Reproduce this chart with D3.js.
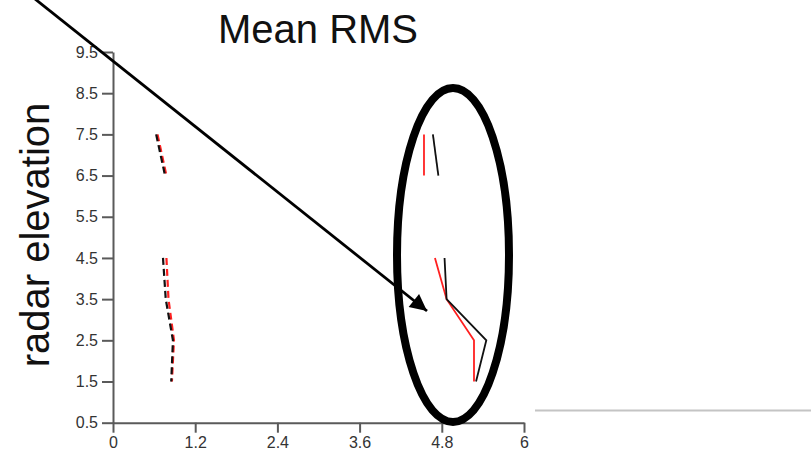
<!DOCTYPE html>
<html>
<head>
<meta charset="utf-8">
<script src="https://d3js.org/d3.v7.min.js"></script>
<style>
html,body{margin:0;padding:0;background:#fff;}
svg{display:block;}
</style>
</head>
<body>
<svg id="chart" width="811" height="451"></svg>
<script>
// ---- data ----
const elevLow = [4.5, 3.5, 2.5, 1.5];
const elevHigh = [7.5, 6.5];
// left group (dashed)
const leftHighBlack = [0.63, 0.76];
const leftHighRed = [0.65, 0.78];
const leftLowBlack = [0.73, 0.77, 0.875, 0.85];
const leftLowRed = [0.78, 0.81, 0.89, 0.86];
// right group (solid)
const rightHighBlack = [4.67, 4.75];
const rightHighRed = [4.54, 4.54];
const rightLowBlack = [4.84, 4.87, 5.45, 5.30];
const rightLowRed = [4.70, 4.87, 5.27, 5.27];
const xTicks = [0, 1.2, 2.4, 3.6, 4.8, 6];
const yTicks = [0.5, 1.5, 2.5, 3.5, 4.5, 5.5, 6.5, 7.5, 8.5, 9.5];
const titleText = "Mean RMS";
const yLabelText = "radar elevation";

const svg = d3.select("#chart");
const font = "'Liberation Sans', Arial, Helvetica, sans-serif";

const x = d3.scaleLinear().domain([0, 6]).range([113, 524]);
const y = d3.scaleLinear().domain([0.5, 9.5]).range([422.7, 52]);

// background gray line at right
svg.append("line").attr("x1", 535).attr("x2", 811).attr("y1", 410.5).attr("y2", 410.5)
  .attr("stroke", "#c4c4c4").attr("stroke-width", 2);

// axes
const xAxis = d3.axisBottom(x).tickValues(xTicks).tickFormat(d3.format("")).tickSize(10).tickSizeOuter(0).tickPadding(4);
const yAxis = d3.axisLeft(y).tickValues(yTicks).tickFormat(d3.format(".1f")).tickSize(11).tickSizeOuter(0).tickPadding(4);

function styleAxis(g) {
  g.selectAll("path,line").attr("stroke", "#5a5a5a").attr("stroke-width", 2);
  g.selectAll("text").attr("fill", "#333").style("font-family", font).style("font-size", "16px");
}
svg.append("g").attr("transform", `translate(0,${y(0.5)})`).call(xAxis).call(styleAxis);
svg.append("g").attr("transform", `translate(${x(0)},0)`).call(yAxis).call(styleAxis);

// title & y label
svg.append("text").attr("x", 318).attr("y", 43).attr("text-anchor", "middle")
  .style("font-family", font).style("font-size", "40px").attr("fill", "#111").text(titleText);
svg.append("text").attr("transform", "translate(49,235) rotate(-90)").attr("text-anchor", "middle")
  .style("font-family", font).style("font-size", "40px").attr("fill", "#111").text(yLabelText);

// series lines
const line = d3.line().x(d => x(d[0])).y(d => y(d[1]));
function drawSeries(vals, elev, color, dashed) {
  const pts = vals.map((v, i) => [v, elev[i]]);
  svg.append("path").attr("d", line(pts)).attr("fill", "none")
    .attr("stroke", color).attr("stroke-width", dashed ? 2.2 : 1.8)
    .attr("stroke-dasharray", dashed ? "7,4" : null);
}
drawSeries(leftHighRed, elevHigh, "#ff2020", true);
drawSeries(leftHighBlack, elevHigh, "#111", true);
drawSeries(leftLowRed, elevLow, "#ff2020", true);
drawSeries(leftLowBlack, elevLow, "#111", true);
drawSeries(rightHighRed, elevHigh, "#ff2020", false);
drawSeries(rightHighBlack, elevHigh, "#111", false);
drawSeries(rightLowRed, elevLow, "#ff2020", false);
drawSeries(rightLowBlack, elevLow, "#111", false);

// annotation: ellipse
svg.append("ellipse").attr("cx", 453).attr("cy", 255).attr("rx", 56).attr("ry", 167)
  .attr("fill", "none").attr("stroke", "#000").attr("stroke-width", 8);

// annotation: arrow
const defs = svg.append("defs");
defs.append("marker").attr("id", "ah").attr("viewBox", "0 0 10 10").attr("refX", 10).attr("refY", 5)
  .attr("markerWidth", 7).attr("markerHeight", 6).attr("markerUnits", "strokeWidth").attr("orient", "auto")
  .append("path").attr("d", "M0,0 L10,5 L0,10 Z").attr("fill", "#000");
svg.append("line").attr("x1", 30).attr("y1", -5).attr("x2", 427).attr("y2", 311)
  .attr("stroke", "#000").attr("stroke-width", 2.8).attr("marker-end", "url(#ah)");
</script>
</body>
</html>
